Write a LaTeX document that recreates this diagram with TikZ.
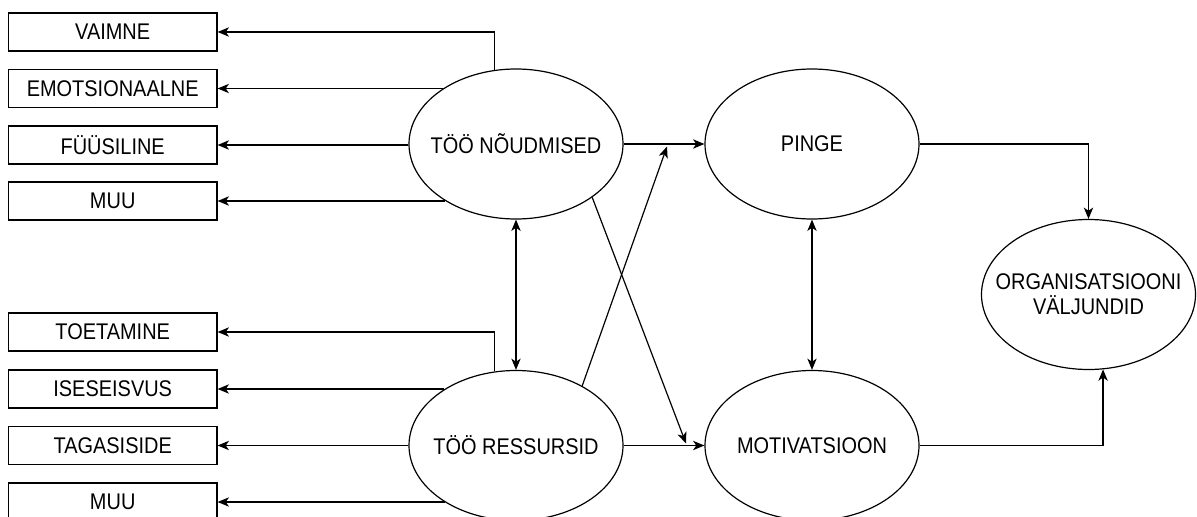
\documentclass[tikz,border=0pt]{standalone}
\usepackage{fontspec}
\setmainfont{Liberation Sans}[FakeStretch=0.88]
\usetikzlibrary{arrows.meta,shapes.geometric}
\begin{document}
\begin{tikzpicture}[x=0.75pt,y=-0.75pt,
  every node/.style={font=\fontsize{17}{18.75}\selectfont},
  box/.style={draw,line width=0.9pt,rectangle,minimum width=156.5pt,minimum height=28.5pt,inner sep=0pt},
  oval/.style={draw,line width=0.9pt,ellipse,minimum width=160.5pt,minimum height=112.5pt,inner sep=0pt},
  tip/.tip={Stealth[length=8.5pt,width=7pt,inset=2.4pt]},
  arr/.style={line width=0.9pt,-tip},
  darr/.style={line width=0.9pt,tip-tip}]
\clip (0,0) rectangle (1197,517);
\useasboundingbox (0,0) rectangle (1197,517);
% boxes
\node[box] (b1) at (112.7,32) {VAIMNE};
\node[box] (b2) at (112.7,88.5) {EMOTSIONAALNE};
\node[box] (b3) at (112.7,145) {FÜÜSILINE};
\node[box] (b4) at (112.7,201) {MUU};
\node[box] (b5) at (112.7,332) {TOETAMINE};
\node[box] (b6) at (112.7,389) {ISESEISVUS};
\node[box] (b7) at (112.7,445.5) {TAGASISIDE};
\node[box] (b8) at (112.7,502) {MUU};
% ellipses
\node[oval,label={center:TÖÖ NÕUDMISED}] (n1) at (516,144) {};
\node[oval,label={center:TÖÖ RESSURSID}] (res) at (516,445.5) {};
\node[oval,label={center:PINGE}] (pinge) at (812,144) {};
\node[oval,label={center:MOTIVATSIOON}] (motiv) at (812,445.5) {};
\node[oval,label={[align=center]center:{ORGANISATSIOONI\\VÄLJUNDID}}] (org) at (1088.5,294.5) {};
% connectors to boxes
\draw[arr] (n1.106) |- (b1.east);
\draw[arr] (b2.east -| n1.143) -- (b2.east);
\draw[arr] (b3.east -| n1.west) -- (b3.east);
\draw[arr] (b4.east -| n1.219) -- (b4.east);
\draw[arr] (res.106) |- (b5.east);
\draw[arr] (b6.east -| res.142) -- (b6.east);
\draw[arr] (b7.east -| res.west) -- (b7.east);
\draw[arr] (b8.east -| res.219) -- (b8.east);
% main connectors
\coordinate (j1) at (667,146.5);
\coordinate (j2) at (686,443.5);
\draw[arr] (n1) -- (pinge);
\draw[arr] (res.42) -- (j1);
\draw[arr] (n1.-35) -- (j2);
\draw[arr] (res) -- (motiv);
\draw[darr] (n1) -- (res);
\draw[darr] (pinge) -- (motiv);
\draw[arr] (pinge.east) -| (org.north);
\draw[arr] (motiv.east) -| (org.281);
\end{tikzpicture}
\end{document}
